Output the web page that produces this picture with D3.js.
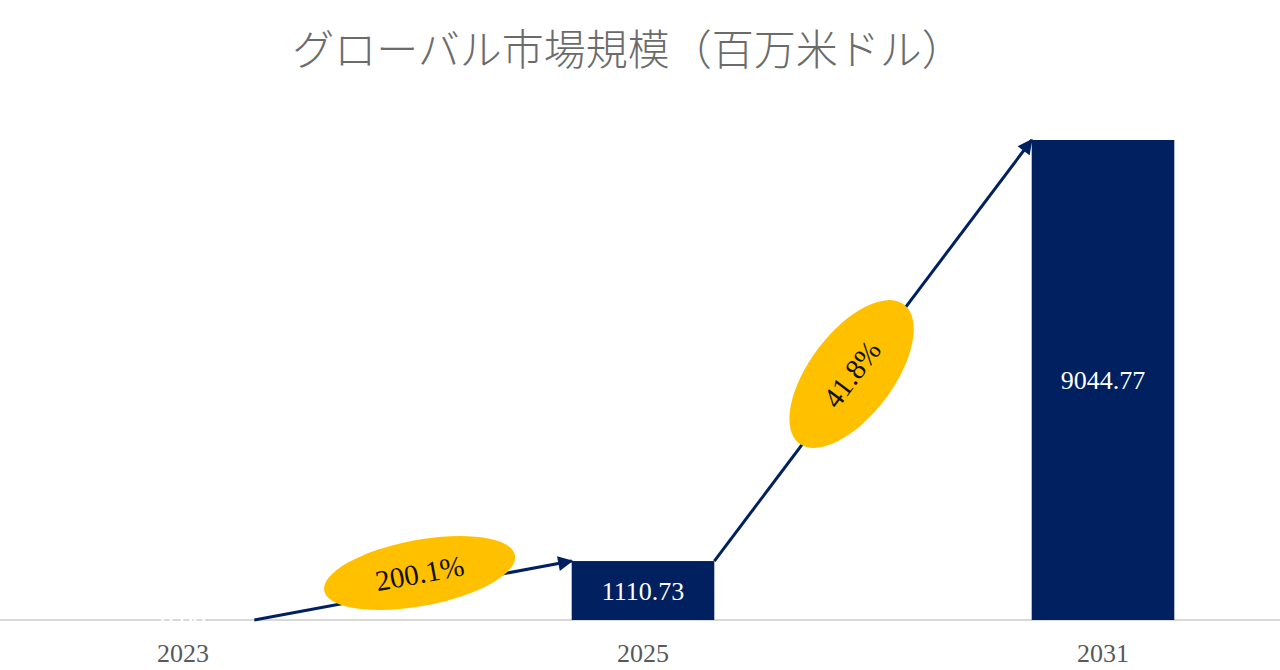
<!DOCTYPE html>
<html>
<head>
<meta charset="utf-8">
<script src="https://cdn.jsdelivr.net/npm/d3@7"></script>
<style>
  html, body { margin: 0; padding: 0; background: #fff; }
  svg { display: block; }
</style>
</head>
<body>
<div id="chart"></div>
<script>
// chart data
const years = ["2023", "2025", "2031"];
const marketSize = [0.00, 1110.73, 9044.77];
const growthLabels = ["200.1%", "41.8%"];
const titleText = "グローバル市場規模（百万米ドル）";

const width = 1280;
const height = 670;
const baseY = 620;

const svg = d3.select("#chart").append("svg")
  .attr("width", width).attr("height", height);

// bands wider than the page, the chart is cropped on both sides
const x = d3.scaleBand().domain(years).range([-47, 1333]).paddingInner(0.69).paddingOuter(0.345);
const y = d3.scaleLinear().domain([0, d3.max(marketSize)]).range([baseY, 140]);

const navy = "#002060";
const gold = "#FFC000";
const serif = "'Liberation Serif', 'Times New Roman', serif";

svg.append("text")
  .attr("x", 628).attr("y", 65)
  .attr("text-anchor", "middle")
  .style("font-family", "'Noto Sans CJK JP', sans-serif")
  .style("font-weight", 300)
  .style("font-size", "42px")
  .style("fill", "#6b6b6b")
  .text(titleText);

// x axis: just the baseline
svg.append("line")
  .attr("x1", 0).attr("x2", width)
  .attr("y1", baseY).attr("y2", baseY)
  .attr("stroke", "#d9d9d9").attr("stroke-width", 2);

const bars = years.map((d, i) => ({ year: d, value: marketSize[i] }));

svg.append("g").selectAll("rect")
  .data(bars)
  .join("rect")
  .attr("x", d => x(d.year))
  .attr("y", d => y(d.value))
  .attr("width", x.bandwidth())
  .attr("height", d => baseY - y(d.value))
  .attr("fill", navy);

// value labels inside bars
svg.append("g").selectAll("text")
  .data(bars)
  .join("text")
  .attr("x", d => x(d.year) + x.bandwidth() / 2)
  .attr("y", d => (y(d.value) + baseY) / 2)
  .attr("dy", "0.35em")
  .attr("text-anchor", "middle")
  .style("font-family", serif)
  .style("font-size", "26px")
  .style("fill", "#fff")
  .text(d => d.value.toFixed(2));

// year labels
const xAxis = svg.append("g")
  .attr("transform", `translate(0, ${baseY})`)
  .call(d3.axisBottom(x).tickSize(0).tickPadding(24));
xAxis.select(".domain").remove();
xAxis.selectAll("text")
  .style("font-family", serif)
  .style("font-size", "26px")
  .style("fill", "#595959");

// arrow head
svg.append("defs").append("marker")
  .attr("id", "head")
  .attr("viewBox", "0 0 10 10")
  .attr("refX", 9).attr("refY", 5)
  .attr("markerWidth", 6).attr("markerHeight", 5)
  .attr("markerUnits", "strokeWidth")
  .attr("orient", "auto")
  .append("path")
  .attr("d", "M0,0 L10,5 L0,10 Z")
  .attr("fill", navy);

// arrows go from top-right of one bar to top-left of the next
const arrows = d3.range(bars.length - 1).map(i => {
  const a = bars[i], b = bars[i + 1];
  return {
    x1: x(a.year) + x.bandwidth(), y1: y(a.value),
    x2: x(b.year), y2: y(b.value),
    label: growthLabels[i]
  };
});
// where the oval sits along each arrow (fraction, offset normal to it, radii)
const ovalPos = [[0.53, 16, 97, 33], [0.44, 3, 87, 42]];

svg.append("g").selectAll("line")
  .data(arrows)
  .join("line")
  .attr("x1", d => d.x1).attr("y1", d => d.y1)
  .attr("x2", d => d.x2).attr("y2", d => d.y2)
  .attr("stroke", navy).attr("stroke-width", 3)
  .attr("marker-end", "url(#head)");

const ovals = svg.append("g").selectAll("g")
  .data(arrows)
  .join("g")
  .attr("transform", (d, i) => {
    const dx = d.x2 - d.x1, dy = d.y2 - d.y1;
    const len = Math.hypot(dx, dy);
    const [t, off] = ovalPos[i];
    const cx = d.x1 + dx * t + (dy / len) * off;
    const cy = d.y1 + dy * t - (dx / len) * off;
    const ang = Math.atan2(dy, dx) * 180 / Math.PI;
    return `translate(${cx},${cy}) rotate(${ang})`;
  });

ovals.append("ellipse")
  .attr("rx", (d, i) => ovalPos[i][2])
  .attr("ry", (d, i) => ovalPos[i][3])
  .attr("fill", gold);

ovals.append("text")
  .attr("text-anchor", "middle")
  .attr("dy", "0.35em")
  .style("font-family", serif)
  .style("font-size", "29px")
  .style("fill", "#111")
  .text(d => d.label);
</script>
</body>
</html>
